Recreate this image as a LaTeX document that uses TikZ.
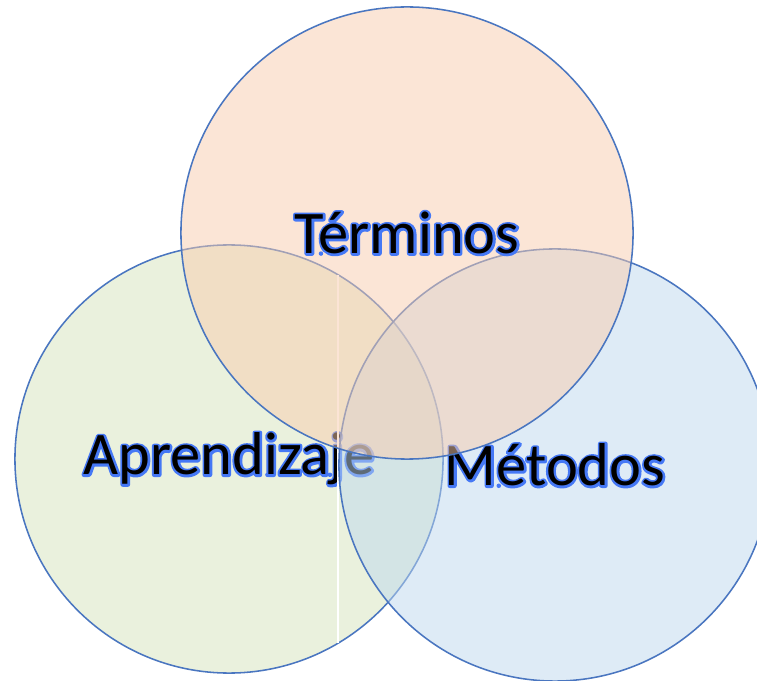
\documentclass[tikz,border=0pt]{standalone}
\usepackage{fontspec}
\setmainfont{Carlito}

\definecolor{vennline}{HTML}{4A76C0}
\definecolor{terminosfill}{HTML}{F8CBAD}
\definecolor{aprendfill}{HTML}{D5E3BC}
\definecolor{metodosfill}{HTML}{BDD7EE}

% black text with a blue glow round it
\newcommand\glowtext[1]{\rlap{\special{pdf:literal 2 Tr 3.2 w 1 J 1 j 0.27 0.47 0.96 RG 0.27 0.47 0.96 rg}#1\special{pdf:literal 0 Tr}}\textcolor{black}{#1}}

\begin{document}
\begin{tikzpicture}[x=0.025cm,y=-0.025cm,
    venn/.style={circle, draw=vennline, line width=1.1pt, fill opacity=0.5,
        text opacity=1, inner sep=0pt, font=\fontsize{43}{43}\selectfont}]

    \useasboundingbox (0,0) rectangle (757,681);
    \clip (0,0) rectangle (757,681);

    \node[venn, fill=aprendfill, minimum size=10.7cm] (aprend) at (229,459) {\glowtext{Aprendizaje}};
    \draw[white, line width=1.1pt] (aprend.center) ++(109,-184) -- ++(0,368);

    \node[venn, fill=metodosfill, minimum size=10.8cm] (metodos) at (555,465) {\glowtext{Métodos}};

    \node[venn, fill=terminosfill, minimum size=11.3cm] (terminos) at (407,233) {\glowtext{Términos}};

\end{tikzpicture}
\end{document}
